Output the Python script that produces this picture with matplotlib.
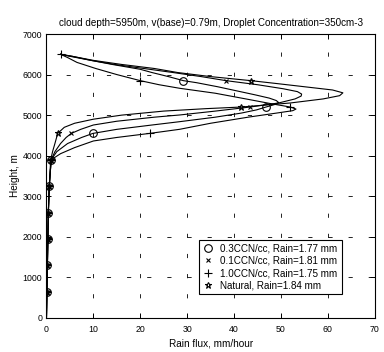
import matplotlib
matplotlib.use('Agg')
import matplotlib.pyplot as plt
from matplotlib.lines import Line2D

plt.rcParams['font.family'] = ['Liberation Sans', 'DejaVu Sans']
plt.rcParams['font.size'] = 7
plt.rcParams['lines.scale_dashes'] = False

# rain flux (mm/hour) against height (m)
low_h = [0, 650, 1300, 1950, 2600, 3250, 3900]
low_x = [0.0, 0.1, 0.2, 0.3, 0.4, 0.6, 1.0]

h_03 = low_h + [4100, 4300, 4450, 4550, 4650, 4750, 4839, 4950, 5050, 5130, 5200, 5260,
                5310, 5360, 5420, 5500, 5600, 5700, 5800, 5850, 5950, 6050, 6130, 6250,
                6350, 6450, 6500]
x_03 = low_x + [2.2, 4.5, 7.5, 9.9, 15, 22, 28.4, 36, 41.5, 44.8, 46.8, 48.6,
                49.5, 49, 47.5, 44.5, 40.5, 36.5, 32, 29.2, 26, 22.5, 20, 14,
                9.5, 5.5, 3]

h_01 = low_h + [4100, 4300, 4450, 4550, 4650, 4757, 4850, 4950, 5004, 5100, 5200, 5300,
                5400, 5470, 5520, 5580, 5650, 5750, 5850, 5950, 6050, 6162, 6250, 6350,
                6450, 6500]
x_01 = low_x + [1.8, 3.0, 4.2, 5.3, 7.3, 10, 15, 23, 28.4, 36, 43.4, 49.5,
                53, 54.3, 54.4, 53.5, 50.5, 45, 38.3, 33, 27, 20, 14.5, 9.5,
                5, 3]

h_10 = low_h + [4050, 4200, 4363, 4450, 4550, 4651, 4800, 4950, 5050, 5110, 5150, 5200,
                5280, 5400, 5540, 5662, 5750, 5850, 6000, 6150, 6300, 6420, 6500]
x_10 = low_x + [3, 6, 10, 15, 22, 28.4, 35, 43, 49, 52.5, 53.2, 52,
                48, 42.5, 36, 28.4, 24, 20, 15, 10.5, 6.5, 4.5, 3]

h_nat = low_h + [4100, 4300, 4550, 4700, 4800, 4900, 5000, 5100, 5160, 5200, 5300, 5400,
                 5480, 5550, 5620, 5700, 5780, 5850, 5950, 6050, 6150, 6250, 6350, 6450,
                 6500]
x_nat = [0.0, 0.1, 0.2, 0.3, 0.4, 0.6, 0.9] + [1.3, 1.8, 2.4, 3.8, 6, 10, 16, 25, 34, 41.5, 52, 59,
                 62.5, 63.2, 61, 55, 49, 43.6, 35, 28, 23, 16, 10, 5.5,
                 3]

labels = ['0.3CCN/cc, Rain=1.77 mm', '0.1CCN/cc, Rain=1.81 mm',
          '1.0CCN/cc, Rain=1.75 mm', 'Natural, Rain=1.84 mm']
markers = ['o', 'x', '+', '*']
msizes = [5.5, 3.5, 6, 5]
marks_to = [5850, 5850, 6500, 5850]   # last marked height of each run

fig = plt.figure(figsize=(3.84, 3.52), dpi=100)
ax = fig.add_axes([0.121, 0.0966, 0.855, 0.8068])

runs = [(h_03, x_03), (h_01, x_01), (h_10, x_10), (h_nat, x_nat)]
for (h, x), m, ms, top in zip(runs, markers, msizes, marks_to):
    every = [i for i, v in enumerate(h) if v > 0 and v % 650 == 0 and v <= top]
    ax.plot(x, h, color='black', lw=0.8, marker=m, ms=ms, mfc='none',
            mec='black', mew=0.8, markevery=every)

ax.set_xlim(0, 70)
ax.set_ylim(0, 7000)
ax.set_xticks(range(0, 71, 10))
ax.set_yticks(range(0, 7001, 1000))
ax.tick_params(direction='in', top=True, right=True, length=3.5, width=0.7, labelsize=6.3)
ax.tick_params(axis='x', pad=5)
ax.tick_params(axis='y', pad=3)
for s in ax.spines.values():
    s.set_linewidth(0.8)
ax.grid(True, color='black', lw=0.6, linestyle=(0, (3, 11.5)))

ax.set_xlabel('Rain flux, mm/hour', labelpad=3, fontsize=7.2)
ax.set_ylabel('Height, m', labelpad=2, fontsize=7.2)
ax.set_title('cloud depth=5950m, v(base)=0.79m, Droplet Concentration=350cm-3',
             pad=6, fontsize=7.1)

handles = [Line2D([], [], ls='none', marker=m, ms=ms, mfc='none', mec='black', mew=0.8, color='black')
           for m, ms in zip(markers, msizes)]
leg = ax.legend(handles, labels, loc='lower left', bbox_to_anchor=(0.464, 0.084),
                borderaxespad=0, fancybox=False, framealpha=1, edgecolor='black',
                handlelength=1.0, handletextpad=0.8, labelspacing=0.22, borderpad=0.4,
                fontsize=7.1)
leg.get_frame().set_linewidth(0.8)

fig.savefig('out.png', dpi=100)
